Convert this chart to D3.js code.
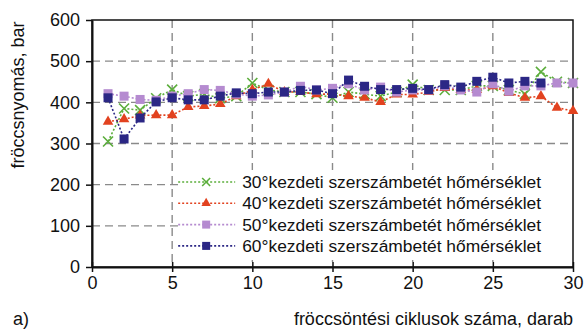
<!DOCTYPE html>
<html>
<head>
<meta charset="utf-8">
<script src="https://d3js.org/d3.v7.min.js"></script>
<style>
	body{
		margin: 0;
		padding: 0;
		background: #fff;
		font-family: 'Liberation Sans', Arial, sans-serif;
	}
	.tick text{
		font-size: 18px;
		fill: #111;
	}
</style>
</head>
<body>
<div id="chart"></div>
<script>

	// ciklusok (x)
	var cycles = d3.range(1, 31);

	var s30 = [305,385,381,410,431,415,420,410,415,447,430,425,425,420,411,425,420,415,425,443,430,430,430,440,440,430,420,474,450,447];
	var s40 = [353,359,368,369,369,389,391,396,415,430,445,425,425,420,420,415,411,401,419,419,425,435,430,430,439,423,411,415,387,379];
	var s50 = [421,415,407,405,415,421,431,429,420,415,418,425,439,430,434,445,430,437,425,430,430,440,430,425,445,427,440,440,447,447];
	var s60 = [411,311,362,401,411,406,406,415,423,421,425,425,429,430,421,454,439,431,431,434,431,443,437,451,461,447,451,447];

	var xTicks = [0,5,10,15,20,25,30];
	var yTicks = [0,100,200,300,400,500,600];

	var seriesNames = [
		"30°kezdeti szerszámbetét hőmérséklet",
		"40°kezdeti szerszámbetét hőmérséklet",
		"50°kezdeti szerszámbetét hőmérséklet",
		"60°kezdeti szerszámbetét hőmérséklet"
	];

	var series = [
		{name: seriesNames[0], values: s30, color: "#5cae3c", marker: "x"},
		{name: seriesNames[1], values: s40, color: "#e2421f", marker: "tri"},
		{name: seriesNames[2], values: s50, color: "#b58bd0", marker: "sq"},
		{name: seriesNames[3], values: s60, color: "#2b2785", marker: "sq"}
	];

	var margin = {top: 20, right: 12, bottom: 62, left: 92};
	var W = 585, H = 329;
	var width = W - margin.left - margin.right;
	var height = H - margin.top - margin.bottom;

	var svg = d3.select("#chart").append("svg")
		.attr("width", W)
		.attr("height", H);

	var chart = svg.append("g")
		.attr("transform", "translate(" + margin.left + "," + margin.top + ")");

	var x = d3.scaleLinear().domain([0, 30]).range([0, width]);
	var y = d3.scaleLinear().domain([0, 600]).range([height, 0]);

	// grid
	chart.append("g").selectAll("line.gx")
		.data(xTicks.slice(1, -1))
		.enter().append("line")
		.attr("x1", function(d){ return x(d); })
		.attr("x2", function(d){ return x(d); })
		.attr("y1", 0).attr("y2", height)
		.attr("stroke", "#8a8a8a")
		.attr("stroke-width", 1.4)
		.attr("stroke-dasharray", "8,5");

	chart.append("g").selectAll("line.gy")
		.data(yTicks.slice(1, -1))
		.enter().append("line")
		.attr("y1", function(d){ return y(d); })
		.attr("y2", function(d){ return y(d); })
		.attr("x1", 0).attr("x2", width)
		.attr("stroke", "#8a8a8a")
		.attr("stroke-width", 1.4)
		.attr("stroke-dasharray", "8,5");

	// frame
	chart.append("rect")
		.attr("width", width).attr("height", height)
		.attr("fill", "none")
		.attr("stroke", "#111")
		.attr("stroke-width", 1.5);

	// axes
	var xAxis = d3.axisBottom(x).tickValues(xTicks).tickSizeInner(5).tickSizeOuter(0).tickPadding(3);
	var yAxis = d3.axisLeft(y).tickValues(yTicks).tickSizeInner(6).tickSizeOuter(0).tickPadding(4);

	var gx = chart.append("g")
		.attr("transform", "translate(0," + height + ")")
		.call(xAxis);
	gx.select(".domain").attr("stroke", "#111").attr("stroke-width", 2);
	gx.selectAll(".tick line").attr("y1", -5).attr("stroke", "#111").attr("stroke-width", 1.5);
	gx.selectAll(".tick text").attr("dy", "0.8em");

	var gy = chart.append("g").call(yAxis);
	gy.select(".domain").attr("stroke", "#111").attr("stroke-width", 2);
	gy.selectAll(".tick line").attr("stroke", "#111").attr("stroke-width", 1.5);
	gy.selectAll(".tick text").attr("dx", "-2px");

	svg.selectAll(".tick text").style("font-family", "'Liberation Sans', Arial, sans-serif");

	// lines and markers
	var line = d3.line()
		.x(function(d, i){ return x(cycles[i]); })
		.y(function(d){ return y(d); });

	function drawMarker(g, type, color, size){
		if(type === "x"){
			var s = size / 2;
			g.append("path")
				.attr("d", "M" + (-s) + "," + (-s) + "L" + s + "," + s + "M" + (-s) + "," + s + "L" + s + "," + (-s))
				.attr("stroke", color)
				.attr("stroke-width", 1.6)
				.attr("fill", "none");
		}else if(type === "tri"){
			g.append("path")
				.attr("d", d3.symbol().type(d3.symbolTriangle).size(size * size * 0.6)())
				.attr("fill", color);
		}else{
			g.append("rect")
				.attr("x", -size / 2).attr("y", -size / 2)
				.attr("width", size).attr("height", size)
				.attr("fill", color);
		}
	}

	series.forEach(function(s){
		chart.append("path")
			.datum(s.values)
			.attr("d", line)
			.attr("fill", "none")
			.attr("stroke", s.color)
			.attr("stroke-width", 1.6)
			.attr("stroke-dasharray", "2,2");

		chart.append("g").selectAll("g")
			.data(s.values)
			.enter().append("g")
			.attr("transform", function(d, i){ return "translate(" + x(cycles[i]) + "," + y(d) + ")"; })
			.each(function(){ drawMarker(d3.select(this), s.marker, s.color, s.marker === "x" ? 10 : 9); });
	});

	// legend
	var legend = chart.append("g")
		.attr("transform", "translate(" + (x(5) + 6) + "," + 150 + ")");

	legend.append("rect")
		.attr("x", 0).attr("y", 0)
		.attr("width", width - x(5) - 7).attr("height", 90)
		.attr("fill", "#fff");

	series.forEach(function(s, i){
		var row = legend.append("g").attr("transform", "translate(0," + (12 + i * 21.3) + ")");
		row.append("line")
			.attr("x1", 0).attr("x2", 57)
			.attr("stroke", s.color)
			.attr("stroke-width", 1.6)
			.attr("stroke-dasharray", "2,2");
		var m = row.append("g").attr("transform", "translate(28,0)");
		drawMarker(m, s.marker, s.color, 8);
		row.append("text")
			.attr("x", 64).attr("y", 0)
			.attr("dy", "0.35em")
			.style("font-size", "17.4px")
			.style("fill", "#111")
			.text(s.name);
	});

	// titles
	svg.append("text")
		.attr("transform", "translate(24," + 95 + ") rotate(-90)")
		.attr("text-anchor", "middle")
		.style("font-size", "18px")
		.style("fill", "#111")
		.text("fröccsnyomás, bar");

	svg.append("text")
		.attr("x", margin.left + width)
		.attr("y", 325)
		.attr("text-anchor", "end")
		.style("font-size", "18px")
		.style("fill", "#111")
		.text("fröccsöntési ciklusok száma, darab");

	svg.append("text")
		.attr("x", 13)
		.attr("y", 325)
		.style("font-size", "18px")
		.style("fill", "#111")
		.text("a)");

</script>
</body>
</html>
